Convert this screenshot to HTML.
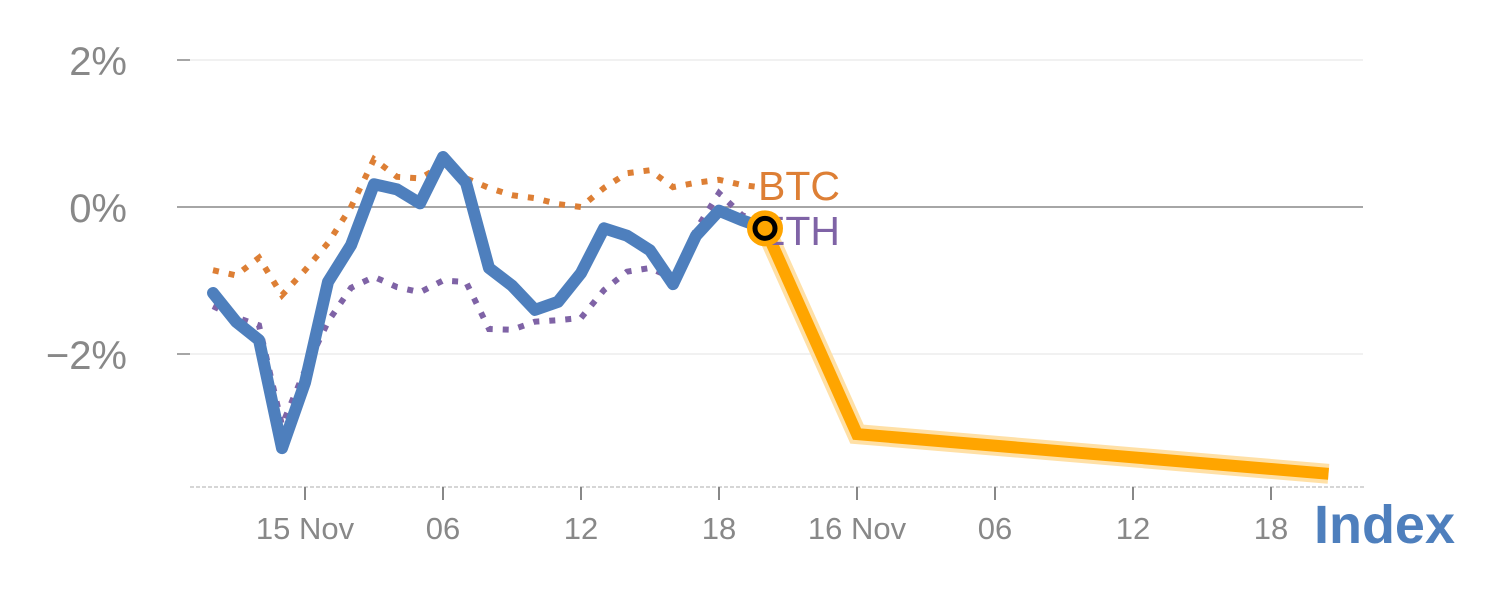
<!DOCTYPE html>
<html><head><meta charset="utf-8"><style>
html,body{margin:0;padding:0;background:#fff;}
svg{display:block;font-family:"Liberation Sans",Arial,sans-serif;}
</style></head><body>
<svg id="chart" width="1500" height="600" viewBox="0 0 1500 600">
<g id="grid"></g>
<g id="axes"></g>
<g id="series"></g>
<text x="1455" y="543" text-anchor="end" font-size="54" font-weight="bold" fill="#4e7fbd">Index</text>
</svg>
<script>
const xTickLabels = ["15 Nov","06","12","18","16 Nov","06","12","18"];
const xTickIdx = [4,10,16,22,28,34,40,46];
const yTicks = [2,0,-2];
const yTickLabels = ["2%","0%","\u22122%"];
const indexVals = [-1.17,-1.56,-1.81,-3.28,-2.39,-1.02,-0.52,0.31,0.24,0.05,0.68,0.33,-0.83,-1.07,-1.40,-1.29,-0.90,-0.29,-0.39,-0.59,-1.05,-0.39,-0.05,-0.18,-0.29];
const btcVals = [-0.86,-0.93,-0.69,-1.20,-0.86,-0.49,0.0,0.65,0.41,0.39,0.57,0.39,0.26,0.16,0.12,0.04,0.0,0.26,0.46,0.50,0.27,0.33,0.37,0.30,0.26];
const ethVals = [-1.35,-1.50,-1.61,-2.97,-2.22,-1.56,-1.10,-0.95,-1.09,-1.16,-1.00,-1.02,-1.66,-1.67,-1.56,-1.54,-1.51,-1.13,-0.88,-0.83,-0.97,-0.31,0.19,-0.11,-0.24];
const forecastIdx = [24,28,48.5];
const forecastVals = [-0.29,-3.09,-3.63];

const NS="http://www.w3.org/2000/svg";
function x(i){return 213+23*i;}
function y(v){return 207-73.5*v;}
function mk(tag,attrs,parent){const e=document.createElementNS(NS,tag);for(const k in attrs)e.setAttribute(k,attrs[k]);parent.appendChild(e);return e;}
const grid=document.getElementById('grid'),axes=document.getElementById('axes'),ser=document.getElementById('series');

yTicks.forEach((v,k)=>{
  const l=mk('line',{x1:v===0?177:190,x2:1363,y1:y(v),y2:y(v),stroke:v===0?'#888':'#e3e3e3','stroke-width':v===0?1.5:1},grid);
  
  
  if(v!==0){const t=mk('line',{x1:177,x2:190,y1:y(v),y2:y(v),stroke:'#888','stroke-width':1.5},axes);
    
    }
  const tx=mk('text',{x:127,y:y(v)+15,'text-anchor':'end','font-size':40,fill:'#888'},axes);
  tx.textContent=yTickLabels[k];
  
  
});
const base=mk('line',{x1:190,x2:1365,y1:487,y2:487,stroke:'#d6d6d6','stroke-width':2,'stroke-dasharray':'4,2'},axes);


xTickIdx.forEach((i,k)=>{
  const t=mk('line',{x1:x(i),x2:x(i),y1:487,y2:500,stroke:'#888','stroke-width':2},axes);
  
  
  const tx=mk('text',{x:x(i),y:539,'text-anchor':'middle','font-size':31,fill:'#888'},axes);
  tx.textContent=xTickLabels[k];
  
  
});
function pts(vals,idx){return vals.map((v,i)=>x(idx?idx[i]:i)+','+y(v)).join(' ');}
const btc=mk('polyline',{points:pts(btcVals),fill:'none',stroke:'#dd7f35','stroke-width':6,'stroke-dasharray':'6,10'},ser);


const eth=mk('polyline',{points:pts(ethVals),fill:'none',stroke:'#7f63a6','stroke-width':6,'stroke-dasharray':'6,10'},ser);


const idx=mk('polyline',{points:pts(indexVals),fill:'none',stroke:'#4e7fbd','stroke-width':12,'stroke-linejoin':'round','stroke-linecap':'round'},ser);


const fg=mk('polyline',{points:pts(forecastVals,forecastIdx),fill:'none',stroke:'#ffe0a6','stroke-width':20},ser);


const fl=mk('polyline',{points:pts(forecastVals,forecastIdx),fill:'none',stroke:'#ffa500','stroke-width':12},ser);


const lx=x(forecastIdx[0]),ly=y(forecastVals[0]);
const bl=mk('text',{x:758,y:200,'font-size':41,fill:'#dd7f35'},ser);
bl.textContent='BTC';


const el=mk('text',{x:758,y:245,'font-size':41,fill:'#7f63a6'},ser);
el.textContent='ETH';


const m1=mk('circle',{cx:lx,cy:ly,r:18,fill:'#ffa500'},ser);


const m2=mk('circle',{cx:lx,cy:ly,r:10,fill:'#ffa500',stroke:'#000','stroke-width':5},ser);


</script>
</body></html>
